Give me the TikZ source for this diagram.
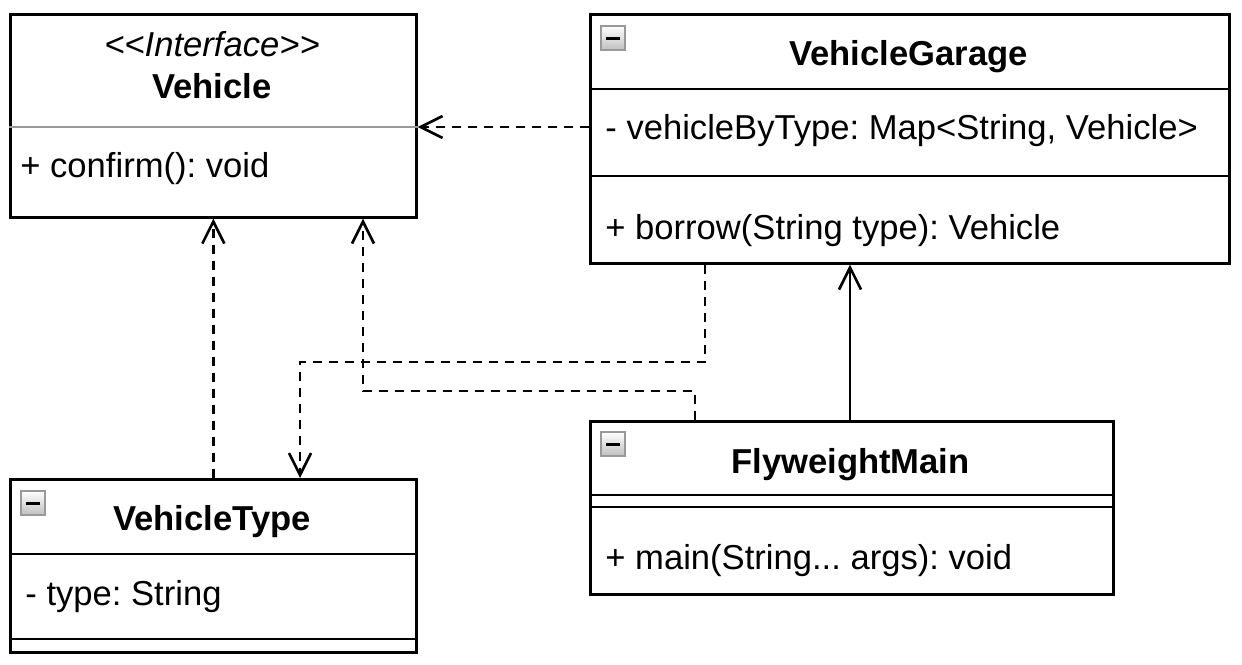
\documentclass[tikz,border=0pt]{standalone}
\usepackage{fontspec}
\setmainfont{Liberation Sans}
\usetikzlibrary{arrows.meta}
\frenchspacing
\tikzset{
  umlbox/.style={draw=black, line width=1.35pt, fill=white, rectangle, inner sep=0pt, anchor=north west},
  sepline/.style={line width=1.35pt},
  greysep/.style={line width=1.1pt, draw=black!40},
  txt/.style={anchor=base west, inner sep=0pt, font=\fontsize{17.3}{20}\selectfont},
  ttl/.style={anchor=base, inner sep=0pt, font=\fontsize{17.3}{20}\selectfont\bfseries},
  stereo/.style={anchor=base, inner sep=0pt, font=\fontsize{17.3}{20}\selectfont\itshape},
  dep/.style={draw, line width=1.35pt, dash pattern=on 4.5pt off 3.5pt,
    -{Straight Barb[length=11pt,width=11pt,line width=1.3pt]}},
  assoc/.style={draw, line width=1.35pt,
    -{Straight Barb[length=11pt,width=11pt,line width=1.3pt]}},
  minusicon/.pic={
    \shade[top color=white, bottom color=black!25] (0,0) rectangle (24,24);
    \draw[black!40, line width=0.9pt] (0,0) rectangle (24,24);
    \fill[black] (5,10.5) rectangle (19,13.5);
  }
}
\begin{document}
\begin{tikzpicture}[x=0.5pt,y=-0.5pt]
\useasboundingbox (0,0) rectangle (1242,664);

% ---- boxes ----
\node[umlbox, minimum width=203pt, minimum height=101.5pt] (veh) at (9,13) {};
\node[umlbox, minimum width=319.5pt, minimum height=124.5pt] (vg) at (589,13) {};
\node[umlbox, minimum width=203pt, minimum height=86.5pt] (vt) at (9,478) {};
\node[umlbox, minimum width=261.5pt, minimum height=86.5pt] (fm) at (589,420) {};

% ---- helper coordinates ----
\coordinate (y127) at (0,127);
\coordinate (y89) at (0,89);
\coordinate (y176) at (0,176);
\coordinate (y554) at (0,554);
\coordinate (y639) at (0,639);
\coordinate (y495) at (0,495);
\coordinate (y507) at (0,507);

% ---- compartment separators ----
\draw[greysep] (veh.west |- y127) -- (veh.east |- y127);
\draw[sepline] (vg.west |- y89) -- (vg.east |- y89);
\draw[sepline] (vg.west |- y176) -- (vg.east |- y176);
\draw[sepline] (vt.west |- y554) -- (vt.east |- y554);
\draw[sepline] (vt.west |- y639) -- (vt.east |- y639);
\draw[sepline] (fm.west |- y495) -- (fm.east |- y495);
\draw[sepline] (fm.west |- y507) -- (fm.east |- y507);

% ---- icons ----
\pic at ([shift={(12,13)}]vg.north west) {minusicon};
\pic at ([shift={(12,13)}]vt.north west) {minusicon};
\pic at ([shift={(12,12)}]fm.north west) {minusicon};

% ---- texts ----
\node[stereo] (vehster) at (212,56) {<{}<Interface>{}>};
\node[ttl] (vehname) at (212,98) {Vehicle};
\node[txt] (vehm) at (20,177) {+ confirm(): void};

\node[ttl] (vgname) at (908.5,65) {VehicleGarage};
\node[txt] (vgf) at (605,139) {- vehicleByType: Map<String, Vehicle>};
\node[txt] (vgm) at (605,239) {+ borrow(String type): Vehicle};

\node[ttl] (vtname) at (212,530) {VehicleType};
\node[txt] (vtf) at (25,605) {- type: String};

\node[ttl] (fmname) at (850.5,473) {FlyweightMain};
\node[txt] (fmm) at (605,569) {+ main(String... args): void};

% ---- connectors ----
\coordinate (g1) at (705,362);
\coordinate (g2) at (300,362);
\coordinate (f1) at (695,391);
\coordinate (f2) at (363,391);
\coordinate (a1) at (850,0);

\draw[dep] (vg.west |- y127) -- (veh.east |- y127);
\draw[dep] (vt.north) -- (veh.south);
\draw[dep] (fm.north -| f1) -- (f1) -- (f2) -- (veh.south -| f2);
\draw[dep] (vg.south -| g1) -- (g1) -- (g2) -- (vt.north -| g2);
\draw[assoc] (fm.north -| a1) -- (vg.south -| a1);
\end{tikzpicture}
\end{document}
